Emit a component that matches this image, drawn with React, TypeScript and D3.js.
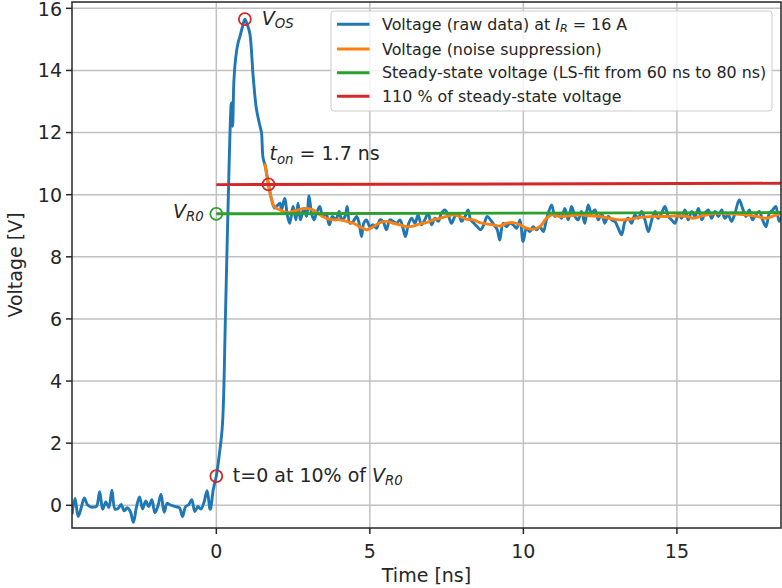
import React from 'react';
import * as d3 from 'd3';

// Raw measured voltage [time ns, voltage V]
const rawSamples: [number, number][] = [
  [-4.7, -0.30], [-4.6, 0.22], [-4.5, -0.36], [-4.4, -0.08], [-4.3, 0.24], [-4.2, 0.02], [-4.1, -0.05], [-4.0, -0.06],
  [-3.9, -0.03], [-3.8, 0.44], [-3.7, -0.13], [-3.6, 0.11], [-3.5, -0.07], [-3.4, 0.49], [-3.3, -0.12], [-3.2, -0.10],
  [-3.1, 0.03], [-3.0, -0.18], [-2.9, -0.08], [-2.8, -0.20], [-2.7, -0.55], [-2.6, -0.05], [-2.5, 0.27], [-2.4, -0.12],
  [-2.3, 0.14], [-2.2, -0.04], [-2.1, 0.18], [-2.0, -0.24], [-1.9, -0.02], [-1.8, 0.36], [-1.7, -0.22], [-1.6, 0.06],
  [-1.5, 0.01], [-1.4, -0.02], [-1.3, -0.05], [-1.2, -0.08], [-1.1, -0.36], [-1.0, -0.04], [-0.9, 0.02], [-0.8, 0.18],
  [-0.7, -0.20], [-0.6, -0.04], [-0.5, -0.12], [-0.4, 0.10], [-0.3, 0.47], [-0.2, -0.14], [-0.1, 0.50],
  [0.0, 0.94], [0.1, 1.65], [0.2, 2.6], [0.3, 6.2], [0.42, 11.1], [0.49, 12.95], [0.53, 12.2], [0.57, 13.6],
  [0.62, 14.3], [0.7, 14.85], [0.77, 15.1], [0.85, 15.4], [0.93, 15.65], [1.0, 15.5], [1.09, 15.2], [1.2, 13.8],
  [1.3, 12.8], [1.4, 12.3], [1.47, 12.0], [1.52, 11.2], [1.6, 10.9], [1.7, 10.33], [1.8, 9.85], [1.9, 9.57],
  [2.07, 9.73], [2.12, 9.51], [2.23, 9.89], [2.31, 9.35], [2.39, 9.08], [2.50, 9.62], [2.59, 9.19], [2.66, 9.73],
  [2.74, 9.19], [2.85, 9.56], [2.94, 9.30], [3.02, 9.96], [3.10, 9.40], [3.18, 9.19], [3.26, 9.40], [3.37, 9.62],
  [3.46, 9.30], [3.57, 9.40], [3.68, 9.03], [3.78, 9.30], [3.89, 9.19], [4.00, 9.46], [4.08, 9.19], [4.19, 9.30],
  [4.26, 9.62], [4.35, 9.08], [4.46, 9.14], [4.57, 9.30], [4.65, 9.08], [4.73, 8.65], [4.80, 9.08], [4.89, 9.19],
  [5.00, 8.97], [5.11, 9.03], [5.22, 8.92], [5.33, 9.19], [5.43, 9.14], [5.54, 8.87], [5.65, 9.19], [5.76, 9.14],
  [5.87, 9.08], [5.98, 9.19], [6.08, 8.92], [6.16, 8.65], [6.25, 9.03], [6.36, 9.24], [6.47, 9.08], [6.57, 9.35],
  [6.68, 9.03], [6.79, 9.19], [6.90, 9.40], [7.01, 9.03], [7.12, 9.24], [7.23, 9.14], [7.33, 9.40], [7.44, 9.51],
  [7.55, 9.35], [7.66, 9.08], [7.77, 9.30], [7.88, 9.40], [7.99, 9.14], [8.10, 9.30], [8.20, 9.51], [8.28, 9.19],
  [8.39, 9.08], [8.50, 8.97], [8.60, 8.87], [8.71, 9.03], [8.82, 9.30], [8.93, 9.19], [9.04, 9.03], [9.15, 8.87],
  [9.23, 8.54], [9.34, 9.08], [9.45, 8.97], [9.56, 9.08], [9.67, 9.03], [9.78, 8.92], [9.89, 9.19], [9.99, 8.49],
  [10.10, 8.92], [10.21, 8.81], [10.32, 8.97], [10.43, 8.87], [10.54, 8.97], [10.65, 8.81], [10.75, 9.19], [10.92, 9.67],
  [11.03, 9.30], [11.14, 9.40], [11.24, 9.24], [11.35, 9.56], [11.46, 9.19], [11.57, 9.62], [11.68, 9.30], [11.78, 9.19],
  [11.89, 9.46], [12.00, 9.08], [12.11, 9.67], [12.22, 9.40], [12.33, 9.51], [12.44, 9.19], [12.55, 9.40], [12.65, 9.08],
  [12.76, 9.30], [12.87, 9.19], [12.98, 9.14], [13.09, 8.92], [13.20, 8.71], [13.31, 9.14], [13.42, 9.24], [13.52, 9.08],
  [13.63, 9.35], [13.74, 9.24], [13.85, 9.46], [13.96, 9.19], [14.07, 8.81], [14.18, 9.19], [14.29, 9.46], [14.39, 9.24],
  [14.50, 9.40], [14.61, 9.62], [14.72, 9.30], [14.83, 9.19], [14.94, 9.08], [15.05, 9.40], [15.15, 9.24], [15.26, 9.51],
  [15.37, 9.19], [15.48, 9.46], [15.59, 9.30], [15.70, 9.56], [15.81, 9.19], [15.91, 9.40], [16.02, 9.51], [16.13, 9.24],
  [16.24, 9.46], [16.35, 9.30], [16.46, 9.51], [16.56, 9.24], [16.67, 9.35], [16.78, 9.14], [16.89, 9.40], [17.03, 9.83],
  [17.14, 9.56], [17.25, 9.30], [17.36, 9.51], [17.46, 9.19], [17.57, 9.35], [17.68, 9.46], [17.79, 9.19], [17.90, 8.97],
  [18.01, 9.40], [18.12, 9.51], [18.22, 9.62], [18.33, 9.14], [18.42, 9.30],
];

// Noise-suppressed voltage [time ns, voltage V]
const smoothSamples: [number, number][] = [
  [1.58, 11.0], [1.69, 10.35], [1.80, 9.85], [1.90, 9.6], [2.07, 9.51], [2.29, 9.42], [2.50, 9.46], [2.72, 9.53],
  [2.94, 9.56], [3.15, 9.51], [3.37, 9.35], [3.59, 9.24], [3.81, 9.19], [4.02, 9.19], [4.24, 9.14], [4.46, 9.08],
  [4.67, 8.97], [4.89, 8.87], [5.11, 8.97], [5.33, 9.10], [5.54, 9.14], [5.76, 9.08], [5.98, 9.03], [6.19, 8.97],
  [6.41, 8.99], [6.63, 9.06], [6.84, 9.10], [7.06, 9.19], [7.28, 9.24], [7.50, 9.30], [7.71, 9.35], [7.93, 9.30],
  [8.15, 9.21], [8.37, 9.19], [8.58, 9.10], [8.80, 9.06], [9.02, 9.03], [9.23, 8.99], [9.45, 9.08], [9.67, 9.10],
  [9.89, 9.03], [10.10, 8.92], [10.32, 8.89], [10.54, 8.97], [10.75, 9.24], [10.92, 9.35], [11.19, 9.30], [11.51, 9.32],
  [11.84, 9.35], [12.17, 9.32], [12.49, 9.30], [12.82, 9.24], [13.14, 9.19], [13.47, 9.21], [13.80, 9.27], [14.23, 9.30],
  [14.66, 9.30], [14.99, 9.32], [15.31, 9.30], [15.53, 9.24], [15.75, 9.30], [16.08, 9.38], [16.40, 9.40], [16.83, 9.38],
  [17.27, 9.35], [17.60, 9.30], [17.92, 9.24], [18.14, 9.32], [18.42, 9.40],
];

// Steady-state LS fit line endpoints
const fitTime = [0, 18.42];
const fitVoltage = [9.385, 9.425];
const thresholdFactor = 1.1;

const xTicks = [0, 5, 10, 15];
const yTicks = [0, 2, 4, 6, 8, 10, 12, 14, 16];

// markers: [t, V]
const redMarkers: [number, number][] = [[0, 0.94], [0.93, 15.65], [1.70, 10.33]];
const greenMarker: [number, number] = [0, 9.385];

const COLORS = { blue: '#1f77b4', orange: '#ff7f0e', green: '#2ca02c', red: '#d62728' };
const TEXT = '#262626';
const FONT = 'DejaVu Sans';

export default function App() {
  const W = 782, H = 588;
  const L = 72, R = 781, T = 2, B = 528;
  const x = d3.scaleLinear().domain([-4.70, 18.39]).range([L, R]);
  const y = d3.scaleLinear().domain([-0.731, 16.204]).range([B, T]);

  const rawLine = d3.line<[number, number]>().x(d => x(d[0])).y(d => y(d[1])).curve(d3.curveCatmullRom.alpha(0.5));
  const line = d3.line<[number, number]>().x(d => x(d[0])).y(d => y(d[1]));
  const smoothLine = d3.line<[number, number]>().x(d => x(d[0])).y(d => y(d[1])).curve(d3.curveCatmullRom);

  const fitPts: [number, number][] = fitTime.map((t, i) => [t, fitVoltage[i]]);
  const redPts: [number, number][] = fitTime.map((t, i) => [t, fitVoltage[i] * thresholdFactor]);

  const lw = 2.9;
  const legendRows = [
    { color: COLORS.blue, cy: 24.3 },
    { color: COLORS.orange, cy: 49.0 },
    { color: COLORS.green, cy: 72.7 },
    { color: COLORS.red, cy: 96.2 },
  ];
  const lf = 15.9;
  const af = 19;

  return (
    <svg width={W} height={H} style={{ position: 'absolute', left: 0, top: 0, background: '#fff' }}
      fontFamily={FONT}>
      <defs>
        <clipPath id="plotclip"><rect x={L} y={T} width={R - L} height={B - T} /></clipPath>
      </defs>
      <rect x={0} y={0} width={W} height={H} fill="#fff" />
      {/* grid */}
      <g stroke="#c0c0c0" strokeWidth={1.5}>
        {xTicks.map(t => <line key={'gx' + t} x1={x(t)} x2={x(t)} y1={T} y2={B} />)}
        {yTicks.map(v => <line key={'gy' + v} x1={L} x2={R} y1={y(v)} y2={y(v)} />)}
      </g>
      <g clipPath="url(#plotclip)" fill="none" strokeLinejoin="round" strokeLinecap="butt">
        <path d={rawLine(rawSamples) || ''} stroke={COLORS.blue} strokeWidth={lw} />
        <path d={smoothLine(smoothSamples) || ''} stroke={COLORS.orange} strokeWidth={lw} />
        <path d={line(fitPts) || ''} stroke={COLORS.green} strokeWidth={lw} />
        <path d={line(redPts) || ''} stroke={COLORS.red} strokeWidth={lw} />
        {redMarkers.map((m, i) => (
          <circle key={'rm' + i} cx={x(m[0])} cy={y(m[1])} r={6} stroke={COLORS.red} strokeWidth={1.8} fill="none" />
        ))}
        <circle cx={x(greenMarker[0])} cy={y(greenMarker[1])} r={6} stroke={COLORS.green} strokeWidth={1.8} fill="none" />
      </g>
      {/* spines */}
      <rect x={L} y={T} width={R - L} height={B - T} fill="none" stroke={TEXT} strokeWidth={1.5} />
      {/* ticks */}
      <g stroke={TEXT} strokeWidth={1.5}>
        {xTicks.map(t => <line key={'tx' + t} x1={x(t)} x2={x(t)} y1={B} y2={B + 6} />)}
        {yTicks.map(v => <line key={'ty' + v} x1={L - 6} x2={L} y1={y(v)} y2={y(v)} />)}
      </g>
      <g fill={TEXT} fontSize={19}>
        {xTicks.map(t => (
          <text key={'lx' + t} x={x(t)} y={558} textAnchor="middle">{t}</text>
        ))}
        {yTicks.map(v => (
          <text key={'ly' + v} x={62} y={Math.max(y(v), 9)} dy="0.36em" textAnchor="end">{v}</text>
        ))}
        <text x={(L + R) / 2} y={581.5} textAnchor="middle">Time [ns]</text>
        <text transform={`translate(22,${(T + B) / 2}) rotate(-90)`} textAnchor="middle">Voltage [V]</text>
      </g>
      {/* annotations */}
      <g fill={TEXT} fontSize={af}>
        <text x={x(redMarkers[1][0]) + 17} y={y(redMarkers[1][1]) + 6}>
          <tspan fontStyle="italic">V</tspan>
          <tspan fontStyle="italic" fontSize={af * 0.7} dy={3}>OS</tspan>
        </text>
        <text x={x(redMarkers[2][0]) + 1} y={y(redMarkers[2][1]) - 24.4}>
          <tspan fontStyle="italic">t</tspan>
          <tspan fontStyle="italic" fontSize={af * 0.7} dy={3.5}>on</tspan>
          <tspan dy={-3.5}> = 1.7 ns</tspan>
        </text>
        <text x={x(greenMarker[0]) - 12.5} y={y(greenMarker[1]) + 4.6} textAnchor="end">
          <tspan fontStyle="italic">V</tspan>
          <tspan fontStyle="italic" fontSize={af * 0.7} dy={3}>R0</tspan>
        </text>
        <text x={x(redMarkers[0][0]) + 16.5} y={y(redMarkers[0][1]) + 5.6}>
          <tspan>t=0 at 10% of </tspan>
          <tspan fontStyle="italic">V</tspan>
          <tspan fontStyle="italic" fontSize={af * 0.7} dy={3}>R0</tspan>
        </text>
      </g>
      {/* legend */}
      <g>
        <rect x={331} y={11} width={441} height={100} rx={3} fill="#fff" fillOpacity={0.8} stroke="#cccccc" strokeWidth={1} />
        {legendRows.map((r, i) => (
          <line key={'lg' + i} x1={337} x2={369.5} y1={r.cy} y2={r.cy} stroke={r.color} strokeWidth={lw} />
        ))}
        <g fill={TEXT} fontSize={lf}>
          <text x={382} y={legendRows[0].cy + 5.3}>
            <tspan>Voltage (raw data) at </tspan>
            <tspan fontStyle="italic">I</tspan>
            <tspan fontStyle="italic" fontSize={lf * 0.7} dy={2.5}>R</tspan>
            <tspan dy={-2.5}> = 16 A</tspan>
          </text>
          <text x={382} y={legendRows[1].cy + 5.5}>Voltage (noise suppression)</text>
          <text x={382} y={legendRows[2].cy + 5.5}>Steady-state voltage (LS-fit from 60 ns to 80 ns)</text>
          <text x={382} y={legendRows[3].cy + 5.5}>110 % of steady-state voltage</text>
        </g>
      </g>
    </svg>
  );
}
